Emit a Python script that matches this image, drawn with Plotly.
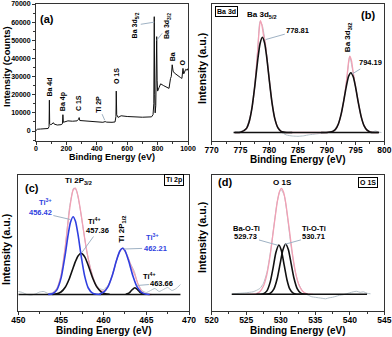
import plotly.graph_objects as go

# ---- panel (a): survey spectrum ----
survey_ev = [0, 10, 30, 60, 80, 86, 88, 90, 95, 105, 114, 120, 140, 165, 174, 177, 180, 190, 210,
             240, 270, 280, 284, 288, 300, 350, 400, 440, 455, 465, 500, 520, 526, 528, 531, 540,
             560, 600, 650, 700, 760, 770, 775, 778, 781, 784, 788, 791, 794, 797, 800, 810, 820,
             840, 860, 875, 885, 890, 896, 902, 910, 930, 950, 960, 967, 972, 978, 985, 995, 1000]
survey_counts = [300, 1000, 1100, 1300, 1400, 2500, 17000, 4000, 3500, 3800, 4600, 3800, 3300, 3500,
                 4000, 9000, 4800, 5200, 5600, 5400, 5600, 6500, 7400, 5800, 5700, 5300, 5000, 4800,
                 5200, 4900, 4800, 5000, 8000, 22000, 9000, 7500, 8400, 8000, 7800, 7600, 7800, 9000,
                 15000, 63000, 20000, 10000, 14000, 30000, 52000, 28000, 22000, 24000, 26000, 25000,
                 24000, 23500, 29000, 30000, 36500, 33000, 32000, 30500, 29500, 29000, 34500, 31500,
                 32500, 34000, 33500, 34500]

# ---- panel (b): Ba 3d ----
ba_raw_ev = [774, 775, 776, 777, 777.5, 778, 778.4, 778.8, 779.3, 779.8, 780.3, 780.8, 781.5, 782,
             782.5, 783, 784, 785, 786, 787, 788, 789, 790, 791, 792, 792.5, 793, 793.5, 794, 794.5,
             795, 795.5, 796, 796.5, 797, 797.5, 798, 798.5, 799, 799.5]
ba_raw = [5, 8, 45, 240, 470, 830, 1110, 1070, 900, 640, 370, 180, 40, 5, -10, -25, -35, -38, -33,
          -22, -15, -8, 0, 12, 85, 185, 340, 540, 760, 620, 460, 295, 150, 65, 25, 10, 8, 15, 5, 0]
ba_env_ev = [774, 775, 776, 776.5, 777, 777.5, 778, 778.2, 778.45, 778.7, 779, 779.3, 779.6, 780,
             780.5, 781, 781.5, 782, 782.5, 783, 784,
             789, 790, 791, 791.5, 792, 792.5, 793, 793.4, 793.8, 794, 794.3, 794.6, 795, 795.5,
             796, 796.5, 797, 797.5, 798, 799]
ba_env = [0, 2, 37, 105, 246, 474, 827, 990, 1118, 1080, 975, 900, 745, 532, 292, 131, 48, 14, 4, 0, 0,
          0, 0, 9, 30, 83, 184, 333, 502, 711, 764, 718, 598, 459, 294, 154, 66, 23, 6, 0, 0]
ba52_ev = [774, 775, 776, 776.5, 777, 777.5, 778, 778.4, 778.81, 779.2, 779.6, 780, 780.5, 781,
           781.5, 782, 782.5, 783, 784]
ba52 = [0, 2, 37, 105, 246, 468, 726, 888, 952, 894, 736, 530, 292, 131, 48, 14, 4, 0, 0]
ba32_ev = [789, 790, 791, 791.5, 792, 792.5, 793, 793.4, 793.8, 794.19, 794.6, 795, 795.5, 796,
           796.5, 797, 797.5, 798, 799]
ba32 = [0, 0, 9, 30, 83, 184, 333, 462, 562, 598, 558, 456, 294, 154, 66, 23, 6, 0, 0]
ba_base_ev = [773.8, 799.1]
ba_base = [0, 0]

# ---- panel (c): Ti 2p ----
ti_raw_ev = [450, 450.5, 451, 451.5, 452, 452.5, 453, 453.5, 454, 454.5, 455, 455.5, 456, 456.5,
             456.8, 457.2, 457.6, 458, 458.5, 459, 459.5, 460, 460.5, 461, 461.5, 462, 462.3, 462.7,
             463.2, 463.6, 464, 464.5, 465, 465.5, 466, 466.5, 467, 467.5, 468, 468.5, 469]
ti_raw = [30, 20, 0, -5, 5, 25, 30, 10, 20, 60, 190, 470, 870, 1065, 1040, 880, 660, 440, 250, 120,
          60, 50, 90, 190, 340, 450, 470, 400, 300, 230, 110, 40, 20, 40, 60, 30, 50, 70, 40, 60, 100]
ti_env_ev = [453.5, 454, 454.5, 455, 455.5, 455.8, 456.1, 456.42, 456.7, 457, 457.4, 457.8, 458.2,
             458.7, 459.2, 459.7, 460.2, 460.7, 461.2, 461.7, 462.21, 462.7, 463.2, 463.66, 464.1,
             464.6, 465.1, 465.6]
ti_env = [1, 9, 51, 186, 475, 698, 904, 1043, 1063, 984, 779, 550, 355, 181, 78, 36, 45, 115, 246,
          394, 462, 402, 287, 194, 88, 17, 2, 0]
ti3a_ev = [453.5, 454, 454.5, 455, 455.5, 455.8, 456.1, 456.42, 456.7, 457, 457.4, 457.8, 458.2,
           458.7, 459.2, 459.7]
ti3a = [1, 8, 44, 161, 402, 576, 718, 778, 732, 598, 367, 176, 65, 13, 2, 0]
ti4a_ev = [454, 454.5, 455, 455.5, 456, 456.42, 456.7, 457, 457.36, 457.8, 458.2, 458.7, 459.2,
           459.7, 460.2, 460.7]
ti4a = [1, 7, 25, 73, 163, 265, 331, 386, 412, 374, 290, 168, 76, 27, 7, 2]
ti3b_ev = [459.5, 460, 460.5, 461, 461.5, 461.9, 462.21, 462.5, 462.9, 463.4, 463.9, 464.4, 464.9,
           465.4]
ti3b = [5, 23, 76, 187, 339, 435, 462, 439, 344, 193, 79, 24, 5, 0]
ti4b_ev = [462.6, 463, 463.3, 463.66, 464, 464.3, 464.7]
ti4b = [2, 17, 45, 68, 47, 19, 2]
ti_base_ev = [450, 469]
ti_base = [0, 0]

# ---- panel (d): O 1s ----
o_raw_ev = [523, 524, 525, 525.5, 526, 526.5, 527, 527.5, 528, 528.5, 529, 529.5, 530, 530.5, 531,
            531.5, 532, 532.5, 533, 533.5, 534, 534.5, 535, 535.5, 536, 536.5, 537, 537.5, 538,
            538.5, 539, 539.5, 540, 540.5, 541, 541.5, 542, 542.5, 543]
o_raw = [5, 10, 15, 20, 25, 40, 60, 110, 220, 420, 680, 930, 1050, 990, 760, 480, 260, 120, 50, 10,
         -10, -25, -30, -35, -40, -45, -35, -30, -20, -10, -5, 5, 15, 25, 30, 20, 25, 10, 5]
o_env_ev = [525, 526, 526.5, 527, 527.5, 528, 528.5, 529, 529.5, 529.8, 530.1, 530.4, 530.7, 531.2,
            531.7, 532.2, 532.7, 533.2, 533.7, 534.2, 534.7]
o_env = [0, 2, 8, 28, 82, 200, 403, 671, 925, 1024, 1060, 1024, 925, 671, 403, 200, 82, 28, 8, 2, 0]
bot_ev = [526.5, 527, 527.5, 528, 528.5, 528.9, 529.3, 529.73, 530.1, 530.5, 530.9, 531.3, 531.8,
          532.3, 532.8]
bot = [0, 1, 6, 34, 129, 267, 418, 493, 436, 291, 146, 55, 11, 1, 0]
tot_ev = [527.5, 528, 528.5, 529, 529.5, 529.9, 530.3, 530.71, 531.1, 531.5, 531.9, 532.4, 532.9,
          533.4, 533.9]
tot = [0, 2, 11, 51, 160, 301, 441, 503, 447, 309, 166, 54, 12, 2, 0]
o_base_ev = [522.9, 542.5]
o_base = [0, 0]

BLACK = "#111111"
PINK = "#f2a0b4"
GRAY = "#b4c0c8"
BLUE = "#2f3fe0"
PTR = "#9fb2c4"
FONT = "Liberation Sans"
W, H = 392, 337

fig = go.Figure()


def line(x, y, color, width, ax):
    fig.add_trace(go.Scatter(x=x, y=y, mode="lines",
                             line=dict(color=color, width=width, shape="spline", smoothing=0.6),
                             xaxis="x" + ax, yaxis="y" + ax, showlegend=False, hoverinfo="skip"))


fig.add_trace(go.Scatter(x=survey_ev, y=survey_counts, mode="lines", line=dict(color=BLACK, width=1),
                         xaxis="x", yaxis="y", showlegend=False))

line(ba_raw_ev, ba_raw, GRAY, 1, "2")
line(ba_env_ev, ba_env, PINK, 1.3, "2")
line(ba_base_ev, ba_base, BLACK, 1.5, "2")
line(ba52_ev, ba52, BLACK, 1.6, "2")
line(ba32_ev, ba32, BLACK, 1.6, "2")

line(ti_raw_ev, ti_raw, GRAY, 1, "3")
line(ti_env_ev, ti_env, PINK, 1.3, "3")
line(ti_base_ev, ti_base, BLACK, 1.5, "3")
line(ti4a_ev, ti4a, BLACK, 1.6, "3")
line(ti4b_ev, ti4b, BLACK, 1.6, "3")
line(ti3a_ev, ti3a, BLUE, 1.6, "3")
line(ti3b_ev, ti3b, BLUE, 1.6, "3")

line(o_raw_ev, o_raw, GRAY, 1, "4")
line(o_env_ev, o_env, PINK, 1.3, "4")
line(o_base_ev, o_base, BLACK, 1.5, "4")
line(bot_ev, bot, BLACK, 1.6, "4")
line(tot_ev, tot, BLACK, 1.6, "4")

left_x = [36 / W, 188 / W]
left_x_c = [18.3 / W, 189 / W]
right_x = [211.7 / W, 384.3 / W]
top_y = [1 - 141 / H, 1 - 4 / H]
bot_y = [1 - 311 / H, 1 - 175 / H]


def xax(domain, rng, dtick, anchor, tsize):
    return dict(domain=domain, range=rng, anchor=anchor, showline=True, linecolor="#333", linewidth=1,
                mirror=True, ticks="outside", ticklen=3, tickwidth=1, tickcolor="#333", dtick=dtick,
                showgrid=False, zeroline=False, ticklabelstandoff=-2,
                minor=dict(ticks="outside", ticklen=2, tickcolor="#333", dtick=dtick / 2),
                tickfont=dict(family=FONT, size=tsize, color="black", weight="bold"))


def yax(domain, rng, anchor):
    return dict(domain=domain, range=rng, anchor=anchor, showline=True, linecolor="#333", linewidth=1,
                mirror=True, ticks="", showticklabels=False, showgrid=False, zeroline=False)


ya = yax(top_y, [-5500, 70000], "x")
ya.update(ticks="outside", ticklen=3, tickcolor="#333", showticklabels=True, dtick=10000,
          tickformat="d",
          minor=dict(ticks="outside", ticklen=2, tickcolor="#333", dtick=5000),
          tickfont=dict(family=FONT, size=7, color="black", weight="bold"))

fig.update_layout(
    width=W, height=H, margin=dict(l=0, r=0, t=0, b=0, autoexpand=False),
    paper_bgcolor="white", plot_bgcolor="white",
    xaxis=xax(left_x, [0, 1000], 200, "y", 7),
    yaxis=ya,
    xaxis2=xax(right_x, [770, 800], 5, "y2", 8.5),
    yaxis2=yax(top_y, [-85, 1285], "x2"),
    xaxis3=xax(left_x_c, [450, 470], 5, "y3", 8.5),
    yaxis3=yax(bot_y, [-165, 1195], "x3"),
    xaxis4=xax(right_x, [520, 545], 5, "y4", 8.5),
    yaxis4=yax(bot_y, [-167, 1193], "x4"),
)

ann = []


def title(text, px, py, size, angle=0):
    ann.append(dict(text=text, x=px / W, y=1 - py / H, xref="paper", yref="paper", showarrow=False,
                    xanchor="center", yanchor="middle", textangle=angle,
                    font=dict(family=FONT, size=size, color="black", weight="bold")))


def label(text, x, y, ax, size=7.5, color="black", angle=0, yanchor="middle", **kw):
    ann.append(dict(text=text, x=x, y=y, xref="x" + ax, yref="y" + ax, showarrow=False, textangle=angle,
                    yanchor=yanchor, font=dict(family=FONT, size=size, color=color, weight="bold"), **kw))


def pointer(text, x, y, ax, dx, dy, size=7.5, color="black", angle=0):
    ann.append(dict(text=text, x=x, y=y, xref="x" + ax, yref="y" + ax, showarrow=True, arrowhead=0,
                    arrowwidth=1, arrowcolor=PTR, ax=dx, ay=dy, textangle=angle,
                    font=dict(family=FONT, size=size, color=color, weight="bold")))


def boxed(text, x, y, ax):
    ann.append(dict(text=text, x=x, y=y, xref="x" + ax, yref="y" + ax, showarrow=False,
                    bgcolor="white", bordercolor="black", borderwidth=1, borderpad=1,
                    font=dict(family=FONT, size=7, color="black", weight="bold")))


# axis titles
title("Binding Energy (eV)", 112, 157, 9)
title("Binding Energy (eV)", 298, 159, 10)
title("Binding Energy (eV)", 104, 330, 10)
title("Binding Energy (eV)", 298, 330, 10)
title("Intensity (Counts)", 6, 67, 9.5, angle=-90)
title("Intensity (a.u.)", 202, 68, 10.5, angle=-90)
title("Intensity (a.u.)", 6, 250, 10.5, angle=-90)
title("Intensity (a.u.)", 202, 237, 10.5, angle=-90)

# (a)
label("(a)", 72, 62000, "", size=11)
label("Ba 4d", 88, 17800, "", size=7, angle=-90, yanchor="bottom")
label("Ba 4p", 178, 9600, "", size=7, angle=-90, yanchor="bottom")
label("C 1S", 284, 10000, "", size=7, angle=-90, yanchor="bottom")
label("O 1S", 530, 24500, "", size=7, angle=-90, yanchor="bottom")
label("Ba", 897, 37200, "", size=7, angle=-90, yanchor="bottom")
label("O", 963, 35200, "", size=7, angle=-90, yanchor="bottom")
pointer("Ti 2P", 452, 6000, "", -7, -16, size=7, angle=-90)
pointer("Ba 3d<sub>5/2</sub>", 778, 60000, "", -19, 3, size=7, angle=-90)
pointer("Ba 3d<sub>3/2</sub>", 794, 50000, "", 11, -14, size=7, angle=-90)

# (b)
boxed("Ba 3d", 772.5, 1210, "2")
label("Ba 3d<sub>5/2</sub>", 778.7, 1170, "2", size=8)
pointer("778.81", 779.4, 930, "2", 32, -9, size=7.5)
label("(b)", 797.2, 1170, "2", size=11)
label("Ba 3d<sub>3/2</sub>", 793.8, 780, "2", size=8, angle=-90, yanchor="bottom")
pointer("794.19", 794.4, 585, "2", 18, -11, size=7.5)

# (c)
label("(c)", 451.6, 1065, "3", size=11)
label("Ti 2P<sub>3/2</sub>", 457.0, 1140, "3", size=8)
boxed("Ti 2p", 468.2, 1145, "3")
label("Ti<sup>3+</sup>", 453.2, 930, "3", color=BLUE)
pointer("456.42", 456.1, 750, "3", -30, -7, color=BLUE)
label("Ti<sup>4+</sup>", 458.9, 735, "3")
pointer("457.36", 457.45, 420, "3", 16, -22)
label("Ti 2P<sub>1/2</sub>", 462.2, 500, "3", size=8, angle=-90, yanchor="bottom")
label("Ti<sup>3+</sup>", 465.7, 575, "3", color=BLUE)
pointer("462.21", 462.4, 455, "3", 31, -1, color=BLUE)
label("Ti<sup>4+</sup>", 465.4, 185, "3")
pointer("463.66", 463.9, 90, "3", 25, -2)

# (d)
label("(d)", 521.9, 1123, "4", size=11)
label("O 1S", 530.3, 1123, "4", size=8)
boxed("O 1S", 542.6, 1123, "4")
label("Ba-O-Ti", 525.0, 663, "4")
pointer("529.73", 529.6, 490, "4", -32, -9)
label("Ti-O-Ti", 534.75, 663, "4")
pointer("530.71", 530.6, 500, "4", 29, -8)

fig.update_layout(annotations=ann)

# the page body has a default 8px margin; drop it so the figure sits at the window's corner
fig.write_html("out.html", config={"displayModeBar": False},
               post_script="document.body.style.margin='0';")
